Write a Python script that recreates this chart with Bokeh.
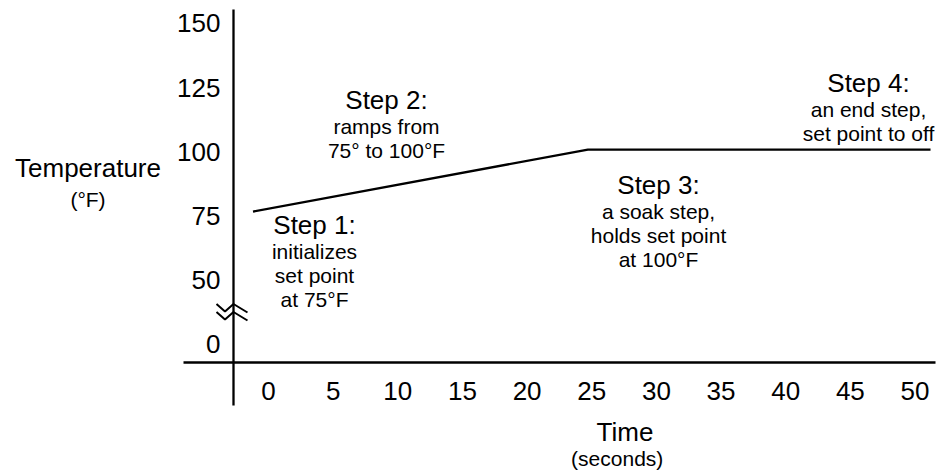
from bokeh.plotting import figure
from bokeh.models import Range1d
from bokeh.core.properties import value
from bokeh.embed import file_html
from bokeh.resources import INLINE

# ---------------- data ----------------
time_s = [-1.2, 24.7, 51.2]          # setpoint profile, seconds
temp_f = [77.5, 101.6, 101.6]        # setpoint profile, degF

x_ticks = [0, 5, 10, 15, 20, 25, 30, 35, 40, 45, 50]
x_tick_labels = [str(v) for v in x_ticks]
y_ticks = [0, 50, 75, 100, 125, 150]
y_tick_labels = [str(v) for v in y_ticks]

step_titles = ["Step 1:", "Step 2:", "Step 3:", "Step 4:"]
step_bodies = [
    ["initializes", "set point", "at 75\u00b0F"],
    ["ramps from", "75\u00b0 to 100\u00b0F"],
    ["a soak step,", "holds set point", "at 100\u00b0F"],
    ["an end step,", "set point to off"],
]

# ---------------- layout (page pixels) ----------------
W, H = 943, 472
X0_PX, PX_PER_S = 268.0, 12.93       # page x of t=0, px per second
Y100_PX, PX_PER_F = 153.2, 2.57      # page y of 100F, px per degF
ZERO_SHOWN_AT = 25.4                 # broken axis: where the "0" label sits (degF scale)

x_start = (0 - X0_PX) / PX_PER_S
x_end = (W - X0_PX) / PX_PER_S
y_end = 100 + (Y100_PX - 0) / PX_PER_F
y_start = 100 - (H - Y100_PX) / PX_PER_F

FONT = value("Liberation Sans")
BIG_PX, SMALL_PX = 26, 21
BIG, SMALL = f"{BIG_PX}px", f"{SMALL_PX}px"
BIG_FIX, SMALL_FIX = -0.4 * BIG_PX, -0.4 * SMALL_PX   # baseline correction

p = figure(width=W, height=H, x_range=Range1d(x_start, x_end), y_range=Range1d(y_start, y_end),
           x_axis_type=None, y_axis_type=None, toolbar_location=None, output_backend="svg",
           min_border=0, min_border_left=0, min_border_right=0, min_border_top=0, min_border_bottom=0,
           outline_line_color=None, background_fill_color="white", border_fill_color="white")
p.grid.visible = False
p.extra_x_ranges = {"px": Range1d(0, W)}
p.extra_y_ranges = {"px": Range1d(H, 0)}

# axes lines (cross shaped)
p.segment(x0=[233, 183], y0=[9, 362], x1=[233, 935], y1=[405, 362],
          line_color="black", line_width=2.3, x_range_name="px", y_range_name="px")

# axis break symbol
bx = [216, 224.5, 233, 247]
by = [303.5, 311, 303.5, 312]
p.multi_line(xs=[bx, bx], ys=[by, [v + 8 for v in by]], line_color="black", line_width=2,
             x_range_name="px", y_range_name="px")

# profile line
p.line(time_s, temp_f, line_color="black", line_width=2.3)

# tick labels
p.text(x=x_ticks, y=[401] * len(x_ticks), text=x_tick_labels, y_range_name="px",
       text_font=FONT, text_font_size=BIG, text_align="center", text_baseline="alphabetic",
       y_offset=BIG_FIX, text_color="black")
y_pos = [v if v >= 50 else ZERO_SHOWN_AT for v in y_ticks]
p.text(x=[220] * len(y_ticks), y=y_pos, text=y_tick_labels, x_range_name="px",
       text_font=FONT, text_font_size=BIG, text_align="right", text_baseline="alphabetic",
       y_offset=8.6 + BIG_FIX, text_color="black")

# axis titles
p.text(x=[87.5, 624.5], y=[178.3, 442.3], text=["Temperature", "Time"],
       x_range_name="px", y_range_name="px", text_font=FONT, text_font_size=BIG,
       text_align="center", text_baseline="alphabetic", y_offset=BIG_FIX, text_color="black")
p.text(x=[87.5, 616.7], y=[207, 466], text=["(\u00b0F)", "(seconds)"],
       x_range_name="px", y_range_name="px", text_font=FONT, text_font_size=SMALL,
       text_align="center", text_baseline="alphabetic", y_offset=SMALL_FIX, text_color="black")

# step annotations
anchor_x = [314, 386, 658, 868]
anchor_y = [235, 110, 195, 93.3]
LINE_STEP = 24
p.text(x=anchor_x, y=anchor_y, text=step_titles, x_range_name="px", y_range_name="px",
       text_font=FONT, text_font_size=BIG, text_align="center", text_baseline="alphabetic",
       y_offset=BIG_FIX, text_color="black")
bx_, by_, bt_ = [], [], []
for ax, ay, lines in zip(anchor_x, anchor_y, step_bodies):
    for k, s in enumerate(lines):
        bx_.append(ax)
        by_.append(ay + LINE_STEP * (k + 1))
        bt_.append(s)
p.text(x=bx_, y=by_, text=bt_, x_range_name="px", y_range_name="px",
       text_font=FONT, text_font_size=SMALL, text_align="center", text_baseline="alphabetic",
       y_offset=SMALL_FIX, text_color="black")

open("out.html", "w").write(file_html(p, INLINE))
